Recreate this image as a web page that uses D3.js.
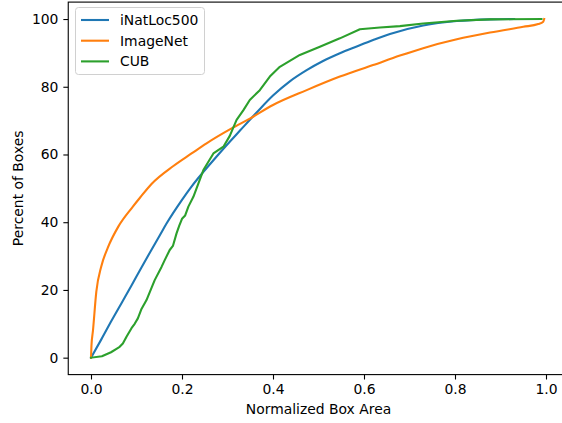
<!DOCTYPE html>
<html><head><meta charset="utf-8">
<script src="https://cdn.jsdelivr.net/npm/d3@7"></script>
<style>body{margin:0;background:#fff}svg{display:block;font-family:"DejaVu Sans",sans-serif}</style>
</head><body><svg id="c" width="562" height="423"></svg>
<script>
const seriesNames = ["iNatLoc500", "ImageNet", "CUB"];
const seriesColors = ["#1f77b4", "#ff7f0e", "#2ca02c"];
const inatX = [0,0.0227,0.045,0.067,0.089,0.11,0.133,0.151,0.166,0.2,0.218,0.269,0.295,0.327,0.364,0.4,0.437,0.474,0.51,0.547,0.584,0.62,0.657,0.73,0.804,0.877,0.93];
const inatY = [0,5.4,10.9,16.1,21.3,26.4,31.9,36.1,39.6,46.6,50,58.3,62.3,67,72.4,77.4,81.6,84.9,87.6,89.9,91.9,93.8,95.6,98.1,99.4,99.9,100];
const imnetX = [0,0.001,0.0044,0.0117,0.0227,0.037,0.06,0.092,0.108,0.133,0.181,0.221,0.254,0.309,0.349,0.4,0.474,0.547,0.62,0.679,0.73,0.804,0.877,0.95,0.983,0.994,0.996];
const imnetY = [0,3.5,8.1,19.5,27,32.5,38.7,44.6,47.3,51.3,56.6,60.3,63.3,67.7,70.6,74.6,79,83,86.4,89.2,91.4,94,96,97.7,98.5,99.2,100];
const cubX = [0,0.024,0.044,0.056,0.063,0.07,0.078,0.089,0.096,0.103,0.111,0.122,0.133,0.14,0.155,0.162,0.173,0.18,0.188,0.194,0.2,0.207,0.214,0.225,0.247,0.269,0.291,0.305,0.32,0.335,0.349,0.371,0.393,0.415,0.459,0.503,0.547,0.591,0.635,0.679,0.73,0.804,0.877,0.99];
const cubY = [0,0.4,1.6,2.6,3.2,4.2,6.2,8.7,10,11.6,14.4,17,20.6,22.9,26.8,28.8,31.8,33,36.7,39,41,42,44.6,47.5,55.4,60.3,62.3,65.5,70.2,73.1,76.1,79,83,85.9,89.4,91.8,94.3,97,97.5,97.9,98.7,99.5,99.9,100];
const xTicks = [0,0.2,0.4,0.6,0.8,1.0];
const yTicks = [0,20,40,60,80,100];
const xLabel = "Normalized Box Area";
const yLabel = "Percent of Boxes";

const svg = d3.select("#c");
const L = 68.25, R = 568.75, T = 2.1, B = 374.6;
const x = d3.scaleLinear().domain([-0.05,1.05]).range([L,R]);
const y = d3.scaleLinear().domain([-5,105]).range([B,T]);
const fs = 13.9;

const series = [[inatX,inatY],[imnetX,imnetY],[cubX,cubY]];
const curves = [d3.curveMonotoneX, d3.curveMonotoneX, d3.curveLinear];
series.forEach((s,i)=>{
  const pts = s[0].map((v,j)=>[v,s[1][j]]);
  const line = d3.line().x(d=>x(d[0])).y(d=>y(d[1])).curve(curves[i]);
  svg.append("path").attr("d",line(pts)).attr("fill","none")
    .attr("stroke",seriesColors[i]).attr("stroke-width",2.1)
    .attr("stroke-linejoin","round").attr("stroke-linecap","square");
});

const xAxis = svg.append("g").attr("transform",`translate(0,${B})`)
  .call(d3.axisBottom(x).tickValues(xTicks).tickFormat(d3.format(".1f")).tickSizeInner(4.9).tickSizeOuter(0).tickPadding(4.9));
const yAxis = svg.append("g").attr("transform",`translate(${L},0)`)
  .call(d3.axisLeft(y).tickValues(yTicks).tickFormat(d3.format("d")).tickSizeInner(4.9).tickSizeOuter(0).tickPadding(4.9));
[xAxis,yAxis].forEach(a=>{
  a.select(".domain").remove();
  a.selectAll("line").attr("stroke","#000").attr("stroke-width",1.1);
  a.selectAll("text").attr("font-size",fs).attr("fill","#000").attr("font-family","DejaVu Sans");
});
svg.append("rect").attr("x",L).attr("y",T).attr("width",R-L).attr("height",B-T)
  .attr("fill","none").attr("stroke","#000").attr("stroke-width",1.1);

svg.append("text").attr("x",(L+R)/2).attr("y",414).attr("text-anchor","middle")
  .attr("font-size",fs).text(xLabel);
svg.append("text").attr("transform",`translate(23,${(T+B)/2}) rotate(-90)`).attr("text-anchor","middle")
  .attr("font-size",fs).text(yLabel);

const lg = svg.append("g");
lg.append("rect").attr("x",75.5).attr("y",7.5).attr("width",129).attr("height",67).attr("rx",3)
  .attr("fill","#fff").attr("fill-opacity",0.8).attr("stroke","#d0d0d0").attr("stroke-width",1);
seriesNames.forEach((n,i)=>{
  const yy = 20 + i*20.7;
  lg.append("line").attr("x1",81).attr("x2",109).attr("y1",yy).attr("y2",yy)
    .attr("stroke",seriesColors[i]).attr("stroke-width",2.1);
  lg.append("text").attr("x",120).attr("y",yy+5).attr("font-size",fs).text(n);
});
</script></body></html>
